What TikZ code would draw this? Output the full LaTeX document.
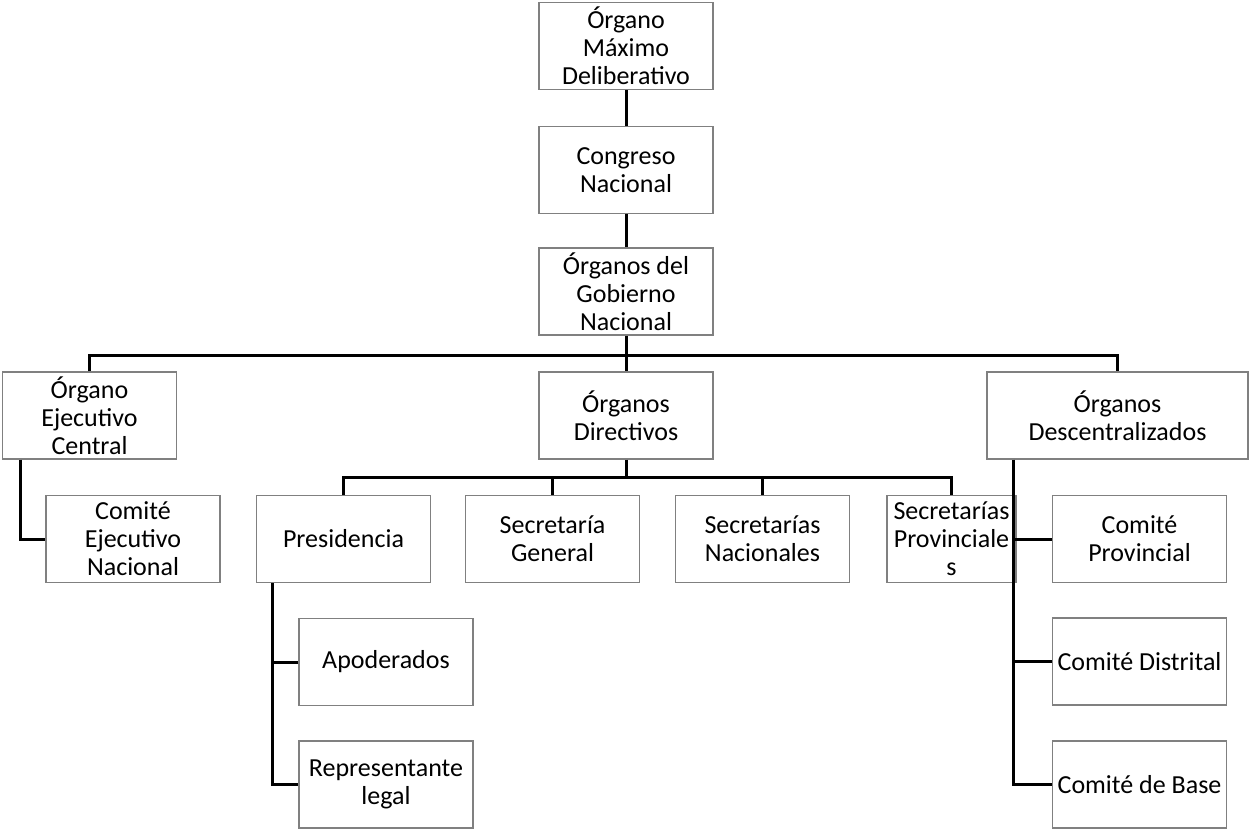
\documentclass[tikz,border=0pt]{standalone}
\usepackage{fontspec}
\setmainfont{Carlito}
\usetikzlibrary{calc}
\tikzset{
  orgbox/.style={draw=black!50, line width=1pt, fill=white, rectangle, inner sep=0pt,
    minimum width=130.5pt, minimum height=65.25pt, align=center,
    font=\fontsize{19.5}{21}\selectfont},
  wideb/.style={minimum width=195.75pt},
  narrowb/.style={minimum width=96.75pt},
  conn/.style={draw=black, line width=2.25pt}
}
\begin{document}
\begin{tikzpicture}[x=0.75pt,y=-0.75pt]
\useasboundingbox (0,0) rectangle (1249,828);
% nodes
\node[orgbox] (omd) at (626,46) {Órgano\\Máximo\\Deliberativo};
\node[orgbox] (cn) at (626,170) {Congreso\\Nacional};
\node[orgbox] (ogn) at (626,291.5) {Órganos del\\Gobierno\\Nacional};
\node[orgbox] (oec) at (89.5,415.5) {Órgano\\Ejecutivo\\Central};
\node[orgbox] (od) at (626,415.5) {Órganos\\Directivos};
\node[orgbox,wideb] (odesc) at (1117.5,415.5) {Órganos\\Descentralizados};
\node[orgbox] (cen) at (133,539) {Comité\\Ejecutivo\\Nacional};
\node[orgbox] (pres) at (343.5,539) {Presidencia};
\node[orgbox] (sg) at (552.5,539) {Secretaría\\General};
\node[orgbox] (sn) at (762.5,539) {Secretarías\\Nacionales};
\node[orgbox,narrowb] (sp) at (951.5,539) {Secretarías\\Provinciale\\s};
\node[orgbox] (cp) at (1139.5,539) {Comité\\Provincial};
\node[orgbox] (cd) at (1139.5,661.5) {Comité Distrital};
\node[orgbox] (cb) at (1139.5,784.5) {Comité de Base};
\node[orgbox] (apo) at (386,662) {Apoderados};
\node[orgbox] (rl) at (386,784.5) {Representante\\legal};
% connectors
\coordinate (bus1) at (626,355);
\coordinate (bus2) at (626,477);
\coordinate (ox) at ($(oec.south west)+(19,0)$);
\coordinate (px) at ($(pres.south west)+(17,0)$);
\coordinate (dx) at ($(odesc.south west)+(27,0)$);
\draw[conn] (omd.south) -- (cn.north);
\draw[conn] (cn.south) -- (ogn.north);
\draw[conn] (ogn.south) -- (bus1);
\draw[conn] (oec.north) |- (bus1) -| (odesc.north);
\draw[conn] (bus1) -- (od.north);
\draw[conn] (ox) |- (cen.west);
\draw[conn] (od.south) -- (bus2);
\draw[conn] (pres.north) |- (bus2) -| (sp.north);
\draw[conn] (sg.north) -- (sg.north |- bus2);
\draw[conn] (sn.north) -- (sn.north |- bus2);
\draw[conn] (px) |- (rl.west);
\draw[conn] (apo.west) -- (apo.west -| px);
\draw[conn] (dx) |- (cb.west);
\draw[conn] (cp.west) -- (cp.west -| dx);
\draw[conn] (cd.west) -- (cd.west -| dx);
\end{tikzpicture}
\end{document}
